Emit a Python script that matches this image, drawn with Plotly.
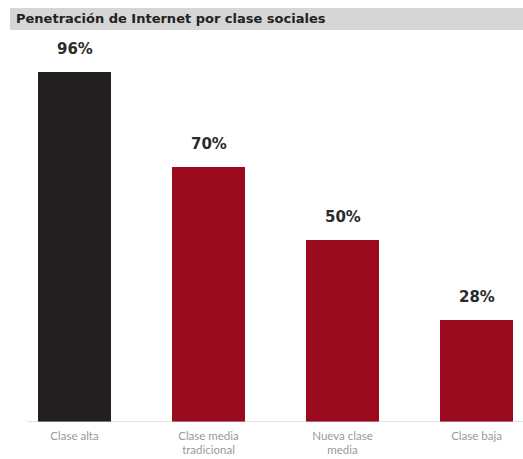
import plotly.graph_objects as go

categories = ["Clase alta", "Clase media<br>tradicional", "Nueva clase<br>media", "Clase baja"]
values = [96, 70, 50, 28]
bar_colors = ["#231f20", "#9c0a20", "#9c0a20", "#9c0a20"]
value_labels = ["96%", "70%", "50%", "28%"]
title_text = "Penetración de Internet por clase sociales"

x_pos = list(range(len(categories)))

fig = go.Figure(
    go.Bar(
        x=x_pos,
        y=values,
        marker=dict(color=bar_colors, line=dict(width=0)),
        width=0.545,
        hoverinfo="skip",
    )
)

# Value labels above each bar
for xp, v, lab in zip(x_pos, values, value_labels):
    fig.add_annotation(
        x=xp, y=v, text=lab, showarrow=False, xref="x", yref="y",
        yanchor="bottom", yshift=12,
        font=dict(family="DejaVu Sans", size=15, color="#2b2b2b", weight="bold"),
    )

# Baseline
fig.add_shape(type="line", xref="x", yref="y", x0=-0.354, x1=3.35, y0=0, y1=0,
              line=dict(color="#c8c8c8", width=1.2))

# Title band
fig.add_shape(type="rect", xref="paper", yref="paper", layer="below",
              x0=10 / 523, x1=1.0, y0=(422 - 30) / 365, y1=(422 - 8) / 365,
              fillcolor="#d6d6d6", line=dict(width=0))
fig.add_annotation(
    xref="paper", yref="paper", x=14 / 523, y=(422 - 19) / 365,
    xanchor="left", yanchor="middle", showarrow=False, text=title_text,
    font=dict(family="DejaVu Sans", size=13, color="#222222", weight="bold"),
)

fig.update_layout(
    width=523, height=459,
    margin=dict(l=0, r=0, t=57, b=37),
    paper_bgcolor="white", plot_bgcolor="white",
    showlegend=False,
    bargap=0,
    xaxis=dict(
        range=[-0.556, 3.347], tickmode="array", tickvals=x_pos, ticktext=categories,
        showgrid=False, zeroline=False, showline=False, ticks="",
        tickfont=dict(family="Lato", size=11.5, color="#999999"),
        ticklabelstandoff=5,
        fixedrange=True,
    ),
    yaxis=dict(range=[0, 100], visible=False, fixedrange=True),
)

fig.write_html("out.html")
